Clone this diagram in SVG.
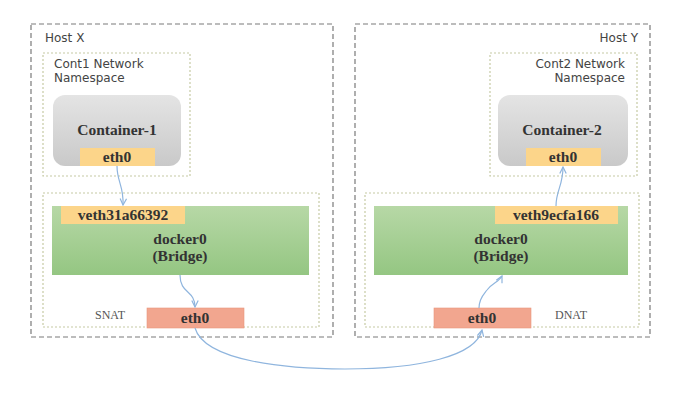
<svg xmlns="http://www.w3.org/2000/svg" width="692" height="406" viewBox="0 0 692 406">
<style>
.host{fill:none;stroke:#7a7a7a;stroke-width:1.2;stroke-dasharray:5,3}
.zone{fill:none;stroke:#c6caa4;stroke-width:1.2;stroke-dasharray:2,2}
.sans{font-family:"DejaVu Sans","Noto Sans",sans-serif;font-size:12px;fill:#444}
.ser{font-family:"Liberation Serif","DejaVu Serif",serif;fill:#333}
.box{font-size:15.5px;font-weight:bold}
.lbl{font-size:15.5px;font-weight:bold}
.nat{font-family:"Liberation Serif",serif;font-size:12px;fill:#555}
.yel{fill:#fcd58a}
.red{fill:#f2a68f;stroke:#e8967e;stroke-width:0.6}
.cont{fill:url(#gray)}
.grn{fill:url(#green)}
.conn path{fill:none;stroke:#8fb5de;stroke-width:1.2;}
</style>
<defs>
<linearGradient id="gray" x1="0" y1="0" x2="0" y2="1"><stop offset="0" stop-color="#e4e4e4"/><stop offset="1" stop-color="#c9c9c9"/></linearGradient>
<linearGradient id="green" x1="0" y1="0" x2="0" y2="1"><stop offset="0" stop-color="#b7d8a6"/><stop offset="1" stop-color="#94c682"/></linearGradient>
<marker id="arr" viewBox="0 0 10 10" refX="9" refY="5" markerWidth="8" markerHeight="8" markerUnits="userSpaceOnUse" orient="auto"><path d="M1,1 L9,5 L1,9" fill="none" stroke="#8fb5de" stroke-width="1.5"/></marker>
</defs>
<rect width="692" height="406" fill="#fff"/>
<g id="hostX">
<rect class="host" x="31" y="24" width="302" height="313"/>
<text class="sans" x="45" y="42">Host X</text>
</g>
<g id="hostY">
<rect class="host" x="355" y="24" width="295" height="313"/>
<text class="sans" x="638" y="42" text-anchor="end">Host Y</text>
</g>
<g id="ns1">
<rect class="zone" x="43" y="53" width="147" height="123"/>
<text class="sans" x="54" y="68">Cont1 Network</text>
<text class="sans" x="54" y="82">Namespace</text>
</g>
<g id="ns2">
<rect class="zone" x="490" y="53" width="147" height="123"/>
<text class="sans" x="625" y="68" text-anchor="end">Cont2 Network</text>
<text class="sans" x="625" y="82" text-anchor="end">Namespace</text>
</g>
<g id="container1">
<rect class="cont" x="53" y="95" width="128" height="71" rx="12"/>
<text class="ser box" x="117" y="135" text-anchor="middle">Container-1</text>
</g>
<g id="eth0-c1">
<rect class="yel" x="80" y="148" width="75" height="18"/>
<text class="ser lbl" x="117" y="162" text-anchor="middle">eth0</text>
</g>
<g id="container2">
<rect class="cont" x="498" y="95" width="130" height="71" rx="12"/>
<text class="ser box" x="562" y="135" text-anchor="middle">Container-2</text>
</g>
<g id="eth0-c2">
<rect class="yel" x="526" y="148" width="75" height="18"/>
<text class="ser lbl" x="563" y="162" text-anchor="middle">eth0</text>
</g>
<g id="zoneX">
<rect class="zone" x="43" y="193" width="276" height="134"/>
<text class="nat" x="110" y="319" text-anchor="middle">SNAT</text>
</g>
<g id="zoneY">
<rect class="zone" x="365" y="193" width="274" height="134"/>
<text class="nat" x="571" y="319" text-anchor="middle">DNAT</text>
</g>
<g id="docker0-X">
<rect class="grn" x="52" y="206" width="257" height="69"/>
<text class="ser box" x="180" y="244" text-anchor="middle">docker0</text>
<text class="ser box" x="180" y="261" text-anchor="middle">(Bridge)</text>
</g>
<g id="veth-X">
<rect class="yel" x="61" y="206" width="124" height="18"/>
<text class="ser lbl" x="123" y="220" text-anchor="middle">veth31a66392</text>
</g>
<g id="docker0-Y">
<rect class="grn" x="374" y="206" width="254" height="69"/>
<text class="ser box" x="501" y="244" text-anchor="middle">docker0</text>
<text class="ser box" x="501" y="261" text-anchor="middle">(Bridge)</text>
</g>
<g id="veth-Y">
<rect class="yel" x="495" y="206" width="123" height="18"/>
<text class="ser lbl" x="556" y="220" text-anchor="middle">veth9ecfa166</text>
</g>
<g id="eth0-X">
<rect class="red" x="147" y="308" width="97" height="20"/>
<text class="ser lbl" x="195" y="323" text-anchor="middle">eth0</text>
</g>
<g id="eth0-Y">
<rect class="red" x="434" y="308" width="97" height="20"/>
<text class="ser lbl" x="482" y="323" text-anchor="middle">eth0</text>
</g>
<g id="connectors" class="conn">
<path d="M117,166 C117,182 124,186 123,205" marker-end="url(#arr)"/>
<path d="M180,275 C180,294 195,290 195,307" marker-end="url(#arr)"/>
<path d="M195,328 C205,362 290,369 345,369 C420,369 476,356 482,330" marker-end="url(#arr)"/>
<path d="M479,308 C479,298 484,294 487,290 C492,283 499,282 502,276" marker-end="url(#arr)"/>
<path d="M556,206 C556,190 563,186 563,167" marker-end="url(#arr)"/>
</g>
</svg>
